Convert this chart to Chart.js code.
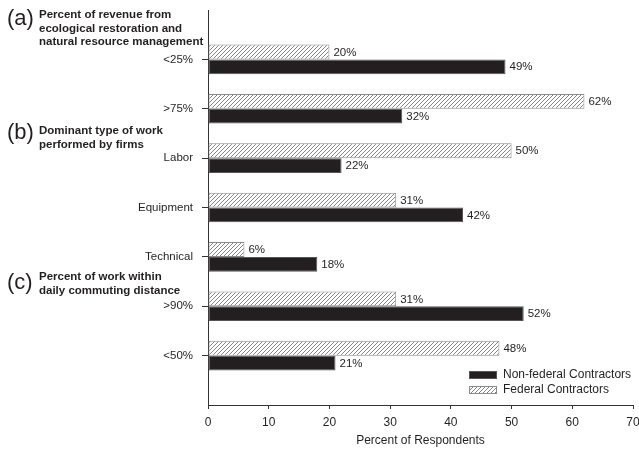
<!DOCTYPE html>
<html>
<head>
<meta charset="utf-8">
<script src="https://cdn.jsdelivr.net/npm/chart.js@4/dist/chart.umd.min.js"></script>
<style>
  body { margin: 0; background: #fff; }
  #wrap { width: 639px; height: 449px; }
</style>
</head>
<body>
<div id="wrap"><canvas id="chart" width="639" height="449"></canvas></div>
<script>
// Données
const categories = ['<25%', '>75%', 'Labor', 'Equipment', 'Technical', '>90%', '<50%'];
const federal = [20, 62, 50, 31, 6, 31, 48];
const nonFederal = [49, 32, 22, 42, 18, 52, 21];
const xTicks = [0, 10, 20, 30, 40, 50, 60, 70];
const seriesNames = ['Federal Contractors', 'Non-federal Contractors'];
const groupTags = ['(a)', '(b)', '(c)'];
const groupLines = [
    ['Percent of revenue from', 'ecological restoration and', 'natural resource management'],
    ['Dominant type of work', 'performed by firms'],
    ['Percent of work within', 'daily commuting distance']
];

const FONT = "'Liberation Sans', Arial, sans-serif";
const INK = '#231f20';

// motif hachuré
function makeHatch(ctx) {
    const c = document.createElement('canvas');
    c.width = 4; c.height = 4;
    const g = c.getContext('2d');
    g.fillStyle = '#fff';
    g.fillRect(0, 0, 4, 4);
    g.strokeStyle = '#666';
    g.lineWidth = 0.8;
    g.beginPath();
    g.moveTo(0, 4); g.lineTo(4, 0);
    g.moveTo(-1, 1); g.lineTo(1, -1);
    g.moveTo(3, 5); g.lineTo(5, 3);
    g.stroke();
    return ctx.createPattern(c, 'repeat');
}

const canvas = document.getElementById('chart');
const ctx = canvas.getContext('2d');
const hatch = makeHatch(ctx);

// catégories vides aux extrémités pour l'espacement
const labels = [''].concat(categories, ['']);
const pad = arr => [null].concat(arr, [null]);

const valueLabels = {
    id: 'valueLabels',
    afterDatasetsDraw(chart) {
        const c = chart.ctx;
        c.save();
        c.font = '11.5px ' + FONT;
        c.fillStyle = INK;
        c.textBaseline = 'middle';
        c.textAlign = 'left';
        chart.data.datasets.forEach((ds, i) => {
            chart.getDatasetMeta(i).data.forEach((bar, j) => {
                const v = ds.data[j];
                if (v == null) return;
                c.fillText(v + '%', bar.x + 4, bar.y + 0.5);
            });
        });
        c.restore();
    }
};

const annotations = {
    id: 'annotations',
    afterDraw(chart) {
        const c = chart.ctx;
        c.save();
        c.fillStyle = INK;
        c.textBaseline = 'middle';
        c.textAlign = 'left';
        // titres de groupes
        const tagY = [19, 133, 283];
        const lineY = [[15, 28.5, 42], [131, 144.5], [277, 290.5]];
        groupTags.forEach((tag, i) => {
            c.font = '22px ' + FONT;
            c.fillText(tag, 7, tagY[i]);
            c.font = 'bold 11.5px ' + FONT;
            groupLines[i].forEach((t, k) => c.fillText(t, 39, lineY[i][k]));
        });
        // légende (ordre inversé)
        const order = [1, 0];
        order.forEach((di, k) => {
            const ds = chart.data.datasets[di];
            const y = 371 + k * 15;
            c.fillStyle = ds.backgroundColor;
            c.fillRect(469, y, 28, 8);
            c.strokeStyle = ds.borderColor;
            c.lineWidth = 1;
            c.strokeRect(469.5, y + 0.5, 27, 7);
            c.fillStyle = INK;
            c.font = '12px ' + FONT;
            c.fillText(ds.label, 503, y + 4);
        });
        c.restore();
    }
};

const chart = new Chart(ctx, {
    type: 'bar',
    data: {
        labels: labels,
        datasets: [{
            label: seriesNames[0],
            data: pad(federal),
            backgroundColor: hatch,
            borderColor: '#8a8a8a',
            borderWidth: 1,
            borderSkipped: false
        }, {
            label: seriesNames[1],
            data: pad(nonFederal),
            backgroundColor: INK,
            borderColor: '#555',
            borderWidth: 1,
            borderSkipped: false
        }]
    },
    options: {
        indexAxis: 'y',
        responsive: false,
        animation: false,
        layout: { padding: { top: 10, right: 6, left: 0, bottom: 0 } },
        datasets: {
            bar: { categoryPercentage: 0.6, barPercentage: 1.0 }
        },
        plugins: {
            legend: { display: false },
            tooltip: { enabled: false }
        },
        scales: {
            y: {
                type: 'category',
                offset: false,
                afterFit(scale) {
                    scale.width = 208;
                    scale.paddingTop = 0;
                    scale.paddingBottom = 0;
                },
                border: { display: true, color: '#333', width: 1 },
                grid: {
                    offset: false,
                    drawOnChartArea: false,
                    drawTicks: true,
                    tickLength: 6,
                    color: c => (c.index === 0 || c.index === labels.length - 1) ? 'rgba(0,0,0,0)' : '#333'
                },
                ticks: {
                    autoSkip: false,
                    padding: 9,
                    color: INK,
                    font: { family: FONT, size: 11.5 }
                }
            },
            x: {
                type: 'linear',
                min: xTicks[0],
                max: xTicks[xTicks.length - 1],
                afterFit(scale) {
                    scale.height = 44;
                    scale.paddingLeft = 0;
                    scale.paddingRight = 0;
                },
                afterBuildTicks(scale) { scale.ticks = xTicks.map(v => ({ value: v })); },
                border: { display: true, color: '#333', width: 1 },
                grid: {
                    drawOnChartArea: false,
                    drawTicks: true,
                    tickLength: 4,
                    color: '#333'
                },
                ticks: {
                    padding: 6,
                    color: INK,
                    font: { family: FONT, size: 12 }
                },
                title: {
                    display: true,
                    text: 'Percent of Respondents',
                    color: INK,
                    font: { family: FONT, size: 12 },
                    padding: { top: 2, bottom: 1 }
                }
            }
        }
    },
    plugins: [valueLabels, annotations]
});
</script>
</body>
</html>
